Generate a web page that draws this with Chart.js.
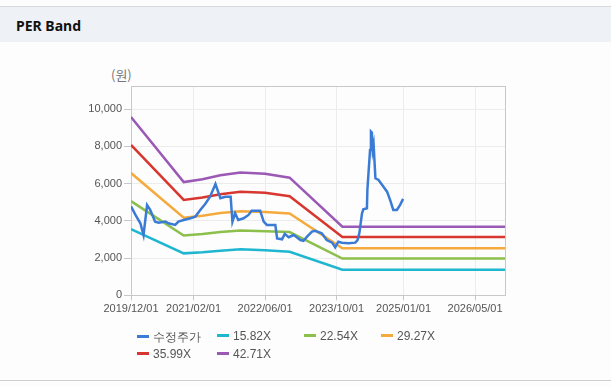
<!DOCTYPE html>
<html>
<head>
<meta charset="utf-8">
<script src="https://cdn.jsdelivr.net/npm/chart.js@4"></script>
<style>
    body { margin: 0; width: 611px; height: 387px; background: #fdfdfd; position: relative; overflow: hidden; font-family: "Liberation Sans", Arial, sans-serif; }
    .header { position: absolute; left: 0; top: 6px; width: 611px; height: 35px; background: #eef2f7; border-top: 1px solid #d6d9dd; }
    .header span { position: absolute; left: 16px; top: 9px; font-family: "Noto Sans", sans-serif; font-weight: bold; font-size: 14px; color: #111; }
    .unit { position: absolute; left: 111px; top: 65px; font-size: 13px; color: #777; font-family: "Noto Sans CJK KR", sans-serif; }
    #chart { position: absolute; left: 0; top: 42px; }
    .legend-item { position: absolute; font-size: 12px; color: #555; white-space: nowrap; }
    .legend-item i { display: inline-block; width: 12px; height: 3px; vertical-align: middle; margin-right: 4px; position: relative; top: -1px; }
    .bottom-line { position: absolute; left: 0; top: 380px; width: 611px; height: 1px; background: #cfcfcf; }
</style>
</head>
<body>
<div class="header"><span>PER Band</span></div>
<div class="unit">(원)</div>
<canvas id="chart" width="611" height="290"></canvas>
<div id="legend"></div>
<div class="bottom-line"></div>

<script>
// 가로축: 2019/12/01 기준 개월 수
const tickMonths = [0, 14, 30, 46, 61, 77];
const tickLabels = ['2019/12/01', '2021/02/01', '2022/06/01', '2023/10/01', '2025/01/01', '2026/05/01'];
const yTicks = [0, 2000, 4000, 6000, 8000, 10000];

// 수정주가
const priceMonths = [0, 1, 2.1, 2.8, 3.6, 4.3, 5.4, 6.2, 7.7, 8.4, 9.9, 10.6, 11.8, 13.3, 14.4, 15.5, 16.6, 17.7, 18.9, 20,
    21.1, 22.3, 22.7, 23.3, 24, 25.2, 26.3, 27, 28.9, 29.7, 30.4, 32.3, 32.7, 33.8, 34.4, 35.3, 36.4, 37.1, 37.9, 38.6,
    39.4, 40.5, 41.2, 42.7, 43.8, 45, 45.7, 46.4, 47.2, 48.7, 50.2, 50.7, 51.1, 51.7, 52, 52.8, 52.9, 53.2, 53.5, 53.7,
    53.9, 54.1, 54.3, 54.7, 55.4, 56.5, 57.3, 58, 58.7, 59.5, 60.2, 60.9];
const priceValues = [4780, 4320, 3870, 3240, 4850, 4590, 3960, 3900, 3960, 3870, 3780, 3960, 4050, 4140, 4230, 4590, 4910, 5300, 5980, 5215,
    5300, 5300, 3960, 4410, 4050, 4140, 4320, 4550, 4550, 3960, 3780, 3780, 3060, 3010, 3300, 3120, 3240, 3120, 2970, 2930,
    3150, 3420, 3470, 3330, 2970, 2830, 2580, 2880, 2830, 2800, 2830, 2970, 3330, 4410, 4620, 4680, 5660, 6740, 7810, 8800,
    8750, 7810, 8080, 6290, 6200, 5840, 5570, 5120, 4590, 4590, 4850, 5180];

// PER 밴드
const bandMonths = [0, 11.8, 16, 20, 24.5, 30, 35.5, 47.3, 83.7];
const band1582 = [3552, 2254, 2310, 2389, 2480, 2420, 2341, 1375, 1375];
const band2254 = [5060, 3212, 3291, 3404, 3482, 3449, 3400, 1975, 1975];
const band2927 = [6571, 4171, 4273, 4420, 4522, 4478, 4400, 2530, 2530];
const band3599 = [8080, 5129, 5255, 5434, 5560, 5506, 5327, 3140, 3140];
const band4271 = [9588, 6086, 6236, 6449, 6599, 6535, 6321, 3690, 3690];

const seriesNames = ['수정주가', '15.82X', '22.54X', '29.27X', '35.99X', '42.71X'];
const seriesColors = ['#3a7bd5', '#1fb6cf', '#8cbf4c', '#f4aa3c', '#d7372e', '#9b59b6'];

function toPoints(xs, ys) {
    return xs.map((x, i) => ({ x: x, y: ys[i] }));
}

const seriesPoints = [
    toPoints(priceMonths, priceValues),
    toPoints(bandMonths, band1582),
    toPoints(bandMonths, band2254),
    toPoints(bandMonths, band2927),
    toPoints(bandMonths, band3599),
    toPoints(bandMonths, band4271)
];

// 플롯 영역 테두리
const frame = {
    id: 'frame',
    beforeDatasetsDraw(chart) {
        const a = chart.chartArea, ctx = chart.ctx;
        ctx.save();
        ctx.strokeStyle = '#c8c8c8';
        ctx.lineWidth = 1;
        ctx.strokeRect(Math.round(a.left) + 0.5, Math.round(a.top) + 0.5, Math.round(a.right - a.left), Math.round(a.bottom - a.top));
        ctx.restore();
    }
};

new Chart(document.getElementById('chart'), {
    type: 'line',
    data: {
        datasets: seriesNames.map((name, i) => ({
            label: name,
            data: seriesPoints[i],
            borderColor: seriesColors[i],
            backgroundColor: seriesColors[i],
            borderWidth: 2.5,
            pointRadius: 0,
            tension: 0,
            order: i === 0 ? 0 : 1
        }))
    },
    options: {
        responsive: false,
        animation: false,
        layout: { padding: { top: 44, right: 106, left: 0, bottom: 0 } },
        plugins: { legend: { display: false }, tooltip: { enabled: false } },
        scales: {
            x: {
                type: 'linear',
                min: 0,
                max: 83.7,
                afterBuildTicks: s => { s.ticks = tickMonths.map(v => ({ value: v })); },
                afterFit: s => { s.height = 36.7; },
                ticks: {
                    autoSkip: false,
                    maxRotation: 0,
                    padding: 2,
                    color: '#555',
                    font: { size: 11, family: '"Liberation Sans", Arial, sans-serif' },
                    callback: v => tickLabels[tickMonths.indexOf(v)]
                },
                grid: { color: '#ececec', tickColor: '#c8c8c8', tickLength: 5 },
                border: { color: '#c8c8c8' }
            },
            y: {
                min: 0,
                max: 11250,
                afterBuildTicks: s => { s.ticks = yTicks.map(v => ({ value: v })); },
                afterFit: s => { s.width = 131; },
                ticks: {
                    padding: 2,
                    color: '#555',
                    font: { size: 11, family: '"Liberation Sans", Arial, sans-serif' },
                    callback: v => v.toLocaleString('en-US')
                },
                grid: { color: '#ececec', tickColor: '#c8c8c8', tickLength: 7 },
                border: { color: '#c8c8c8' }
            }
        }
    },
    plugins: [frame]
});

// 범례
const legendPos = [[137, 329], [217, 329], [304, 329], [381, 329], [137, 347], [217, 347]];
const legend = document.getElementById('legend');
seriesNames.forEach((name, i) => {
    const item = document.createElement('div');
    item.className = 'legend-item';
    item.style.left = legendPos[i][0] + 'px';
    item.style.top = legendPos[i][1] + 'px';
    item.innerHTML = `<i style="background:${seriesColors[i]}"></i>${name}`;
    legend.appendChild(item);
});
</script>
</body>
</html>
